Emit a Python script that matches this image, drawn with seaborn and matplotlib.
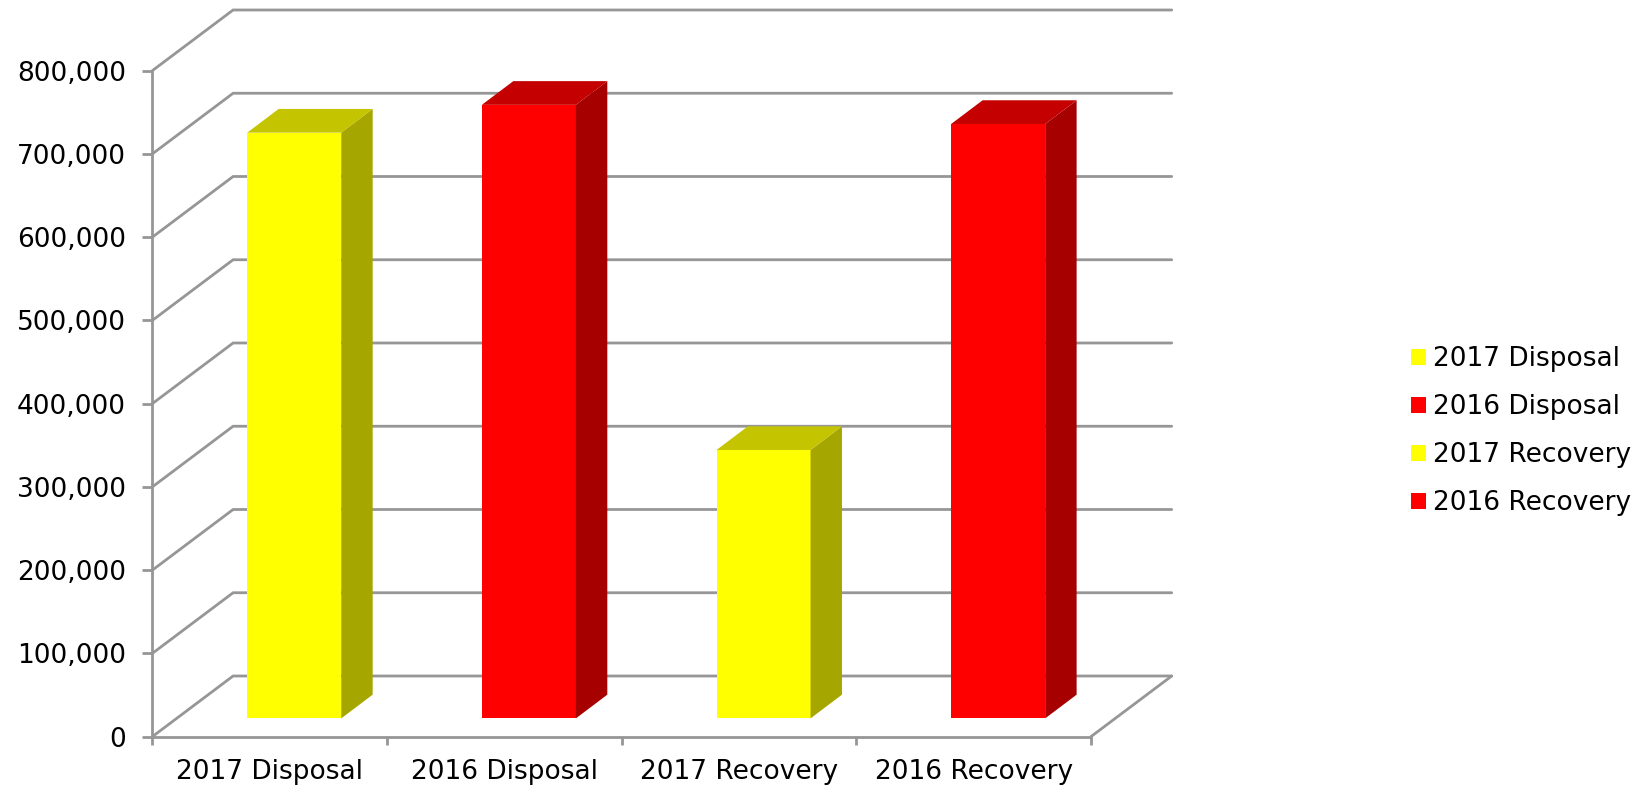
import matplotlib
matplotlib.use("Agg")
import matplotlib.pyplot as plt
from matplotlib.colors import to_rgb
from matplotlib.patches import Polygon
import pandas as pd
import seaborn as sns

categories = ["2017 Disposal", "2016 Disposal", "2017 Recovery", "2016 Recovery"]
values = [703600, 737000, 322400, 714000]
bar_colors = ["#FFFF00", "#FF0000", "#FFFF00", "#FF0000"]
y_ticks = [0, 100000, 200000, 300000, 400000, 500000, 600000, 700000, 800000]

W, H = 1648, 787
AX_L, AX_R, AX_T, AX_B = 152.4, 1091.0, 70.6, 736.6
GRID = "#969696"
LW = 2.0
FS = 19

# Pseudo-3D geometry, in data units
WALL_DX, WALL_DY = 0.344, 72800
BAR_SHIFT, BAR_BASE = 0.1044, 21870
BAR_DX, BAR_DY = 0.134, 28480
BAR_W = 0.4006

sns.set_theme(style="white")
plt.rcParams["font.family"] = ["DejaVu Sans"]

fig = plt.figure(figsize=(W / 100, H / 100), dpi=100, facecolor="white")
ax = fig.add_axes([AX_L / W, 1 - AX_B / H, (AX_R - AX_L) / W, (AX_B - AX_T) / H])
ax.set_facecolor("none")

df = pd.DataFrame({"category": categories, "value": values})
sns.barplot(data=df, x="category", y="value", hue="category", palette=bar_colors,
            dodge=False, width=BAR_W, errorbar=None, ax=ax, saturation=1,
            legend=True, zorder=3, linewidth=0)
ax.set_xlim(-0.5, 3.5)
ax.set_ylim(0, 800000)
ax.set_xlabel("")
ax.set_ylabel("")

# Back wall gridlines and floor
x0, x1 = -0.5, 3.5
for t in y_ticks:
    ax.plot([x0, x0 + WALL_DX, x1 + WALL_DX], [t, t + WALL_DY, t + WALL_DY],
            color=GRID, lw=LW, clip_on=False, zorder=1, solid_joinstyle="miter")
ax.plot([x1, x1 + WALL_DX], [0, WALL_DY], color=GRID, lw=LW, clip_on=False, zorder=1)


def shade(c, f):
    return tuple(v * f for v in to_rgb(c))


# Move front faces onto their plane, then add side and top faces
bars = [p for p in ax.patches if p.get_height() > 0]
for p, col in zip(bars, bar_colors):
    p.set_x(p.get_x() + BAR_SHIFT)
    p.set_y(BAR_BASE)
    p.set_clip_on(False)
    l, r = p.get_x(), p.get_x() + p.get_width()
    b, t = p.get_y(), p.get_y() + p.get_height()
    ax.add_patch(Polygon([(r, b), (r + BAR_DX, b + BAR_DY), (r + BAR_DX, t + BAR_DY), (r, t)],
                         closed=True, facecolor=shade(col, 0.65), edgecolor="none",
                         clip_on=False, zorder=3))
    ax.add_patch(Polygon([(l, t), (l + BAR_DX, t + BAR_DY), (r + BAR_DX, t + BAR_DY), (r, t)],
                         closed=True, facecolor=shade(col, 0.77), edgecolor="none",
                         clip_on=False, zorder=3))

# Axes
for side in ("top", "right"):
    ax.spines[side].set_visible(False)
for side in ("left", "bottom"):
    ax.spines[side].set_color(GRID)
    ax.spines[side].set_linewidth(LW)
    ax.spines[side].set_zorder(2)

ax.set_yticks(y_ticks)
ax.set_yticklabels([f"{t:,}" for t in y_ticks], fontsize=FS, color="black")
ax.set_xticks(range(len(categories)))
ax.set_xticklabels(categories, fontsize=FS, color="black")
ax.set_xticks([-0.5, 0.5, 1.5, 2.5, 3.5], minor=True)
ax.tick_params(axis="y", which="major", left=True, length=7, width=LW, color=GRID, pad=12)
ax.tick_params(axis="x", which="major", bottom=False, length=0, pad=16.3)
ax.tick_params(axis="x", which="minor", bottom=True, length=6, width=LW, color=GRID)

# Legend
handles, labels = ax.get_legend_handles_labels()
leg = ax.legend(handles, labels, loc="upper left", bbox_to_anchor=(1411 / W, 1 - 346.4 / H),
                bbox_transform=fig.transFigure, frameon=False, fontsize=FS,
                handlelength=0.57, handleheight=0.57, handletextpad=0.27,
                labelspacing=0.83, borderpad=0, borderaxespad=0, labelcolor="black")

fig.savefig("out.png", dpi=100)
